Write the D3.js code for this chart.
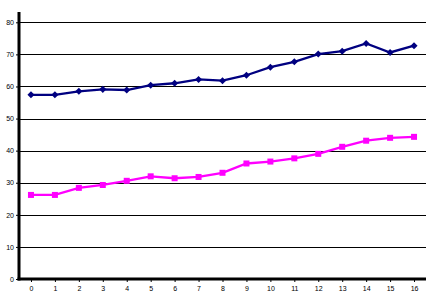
<!DOCTYPE html>
<html>
<head>
<meta charset="utf-8">
<script src="https://cdn.jsdelivr.net/npm/d3@7"></script>
<style>
  body { margin: 0; background: #fff; }
  svg { display: block; }
  .tick text { font-family: "Liberation Sans", Arial, sans-serif; font-size: 7px; fill: #000; }
</style>
</head>
<body>
<div id="chart"></div>
<script>
// x categories 0..16
var categories = ["0","1","2","3","4","5","6","7","8","9","10","11","12","13","14","15","16"];
var blueValues = [57.4, 57.4, 58.5, 59.1, 58.9, 60.4, 61.0, 62.2, 61.8, 63.5, 66.0, 67.7, 70.1, 71.0, 73.4, 70.6, 72.7];
var pinkValues = [26.2, 26.2, 28.4, 29.3, 30.6, 32.0, 31.4, 31.8, 33.1, 36.0, 36.6, 37.6, 39.0, 41.2, 43.1, 44.0, 44.3];
var yTicks = [0, 10, 20, 30, 40, 50, 60, 70, 80];

var width = 435, height = 299;
var margin = {left: 19, right: 9, top: 12, bottom: 20};

var svg = d3.select('#chart').append('svg')
    .attr('width', width)
    .attr('height', height);

var x = d3.scalePoint()
    .domain(categories)
    .range([margin.left, width - margin.right])
    .padding(0.5);

var y = d3.scaleLinear()
    .domain([0, 80])
    .range([279, 22.3]);

// gridlines
svg.append('g')
    .selectAll('line')
    .data(yTicks.slice(1))
    .enter().append('line')
    .attr('x1', margin.left)
    .attr('x2', width - margin.right)
    .attr('y1', function(d){ return Math.round(y(d)) + 0.5; })
    .attr('y2', function(d){ return Math.round(y(d)) + 0.5; })
    .attr('stroke', '#000')
    .attr('stroke-width', 1.2);

// y axis
var yAxis = d3.axisLeft(y).tickValues(yTicks).tickSize(3).tickPadding(2);
var gy = svg.append('g')
    .attr('transform', 'translate(' + margin.left + ',0)')
    .call(yAxis);
gy.select('.domain').remove();
gy.selectAll('.tick line').attr('stroke', '#000');

// x axis
var xAxis = d3.axisBottom(x).tickSize(3).tickPadding(4);
var gx = svg.append('g')
    .attr('transform', 'translate(0,279)')
    .call(xAxis);
gx.select('.domain').remove();
gx.selectAll('.tick line').attr('stroke', '#000');

// axis lines
svg.append('line')
    .attr('x1', margin.left).attr('x2', margin.left)
    .attr('y1', margin.top).attr('y2', 280.5)
    .attr('stroke', '#000').attr('stroke-width', 3);
svg.append('line')
    .attr('x1', margin.left - 1.5).attr('x2', width - margin.right)
    .attr('y1', 279).attr('y2', 279)
    .attr('stroke', '#000').attr('stroke-width', 3);

var line = d3.line()
    .x(function(d, i){ return x(categories[i]); })
    .y(function(d){ return y(d); });

// pink series
svg.append('path')
    .datum(pinkValues)
    .attr('d', line)
    .attr('fill', 'none')
    .attr('stroke', '#ff00ff')
    .attr('stroke-width', 2.3);
svg.append('g')
    .selectAll('rect')
    .data(pinkValues)
    .enter().append('rect')
    .attr('x', function(d, i){ return x(categories[i]) - 3; })
    .attr('y', function(d){ return y(d) - 3; })
    .attr('width', 6)
    .attr('height', 6)
    .attr('fill', '#ff00ff');

// blue series
svg.append('path')
    .datum(blueValues)
    .attr('d', line)
    .attr('fill', 'none')
    .attr('stroke', '#000080')
    .attr('stroke-width', 2.3);
svg.append('g')
    .selectAll('path')
    .data(blueValues)
    .enter().append('path')
    .attr('d', d3.symbol().type(d3.symbolSquare).size(25))
    .attr('transform', function(d, i){ return 'translate(' + x(categories[i]) + ',' + y(d) + ') rotate(45)'; })
    .attr('fill', '#000080');
</script>
</body>
</html>
